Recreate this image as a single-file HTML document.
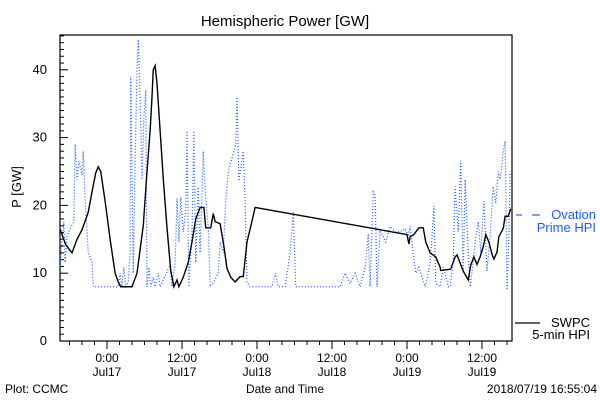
<!DOCTYPE html>
<html><head><meta charset="utf-8"><style>
body{margin:0;background:#fff;}
svg{display:block;font-family:"Liberation Sans",sans-serif;}
</style></head><body>
<svg id="chart" width="600" height="400" viewBox="0 0 600 400">
<rect x="0" y="0" width="600" height="400" fill="#fff"/>
<text x="285" y="26" font-size="15" text-anchor="middle">Hemispheric Power [GW]</text>
<text transform="translate(21,187) rotate(-90)" font-size="13" text-anchor="middle">P [GW]</text>
<text x="285" y="393" font-size="12" text-anchor="middle">Date and Time</text>
<text x="5" y="393" font-size="12">Plot: CCMC</text>
<text x="597" y="393" font-size="12" text-anchor="end">2018/07/19 16:55:04</text>
<g id="axes"></g>
<g id="series"></g>
<g>
<line x1="516" y1="215" x2="522" y2="215" stroke="#1a5cff" stroke-width="1.2"/>
<line x1="532" y1="215" x2="540" y2="215" stroke="#1a5cff" stroke-width="1.2"/>
<text x="596" y="219" font-size="13" fill="#1a5cff" text-anchor="end">Ovation</text>
<text x="596" y="232" font-size="13" fill="#1a5cff" text-anchor="end">Prime HPI</text>
<line x1="515" y1="323" x2="540" y2="323" stroke="#000" stroke-width="1.2"/>
<text x="590" y="327" font-size="13" text-anchor="end">SWPC</text>
<text x="590" y="339" font-size="13" text-anchor="end">5-min HPI</text>
</g>
</svg>
<script>
// hours relative to Jul17 00:00
const swpcHours=[-7.5,-7.2,-6.6,-5.6,-4.8,-4.0,-3.0,-2.4,-1.8,-1.4,-1.0,-0.3,0.5,1.3,1.8,2.2,4.0,4.8,5.8,6.4,6.9,7.2,7.4,7.7,8.0,8.5,9.0,9.6,10.2,10.7,11.2,11.5,12.2,13.0,13.6,14.2,14.9,15.5,15.8,16.6,17.0,17.3,18.1,18.7,19.2,19.8,20.5,21.3,21.8,22.4,23.0,23.7,48.0,48.3,48.5,49.1,49.9,50.6,51.0,51.7,52.6,53.3,53.4,55.0,55.7,56.0,56.5,57.0,57.8,58.2,58.7,59.2,59.7,60.2,60.6,61.1,61.6,61.9,62.4,62.7,63.4,63.7,64.2,64.6];
const swpcValues=[16.5,15.7,14.2,13,15,16.4,19,22,24.8,25.7,25,20.6,15,10,8.7,8,8,10,17,25,31,36,40,40.6,38,31,24,16.7,10.4,8,9,8,9.4,11.6,14.6,18,19.7,19.7,16.7,16.7,18.8,17.6,17.3,14,10.7,9.4,8.7,9.5,9.5,14.6,16.9,19.7,15.7,14.3,15.4,15.7,16.7,16.7,14.6,13,12.4,10.9,10.4,10.6,12.4,12.7,11.5,10.3,9,11.2,12.4,11.3,12.4,13.9,15.7,14.6,12.8,12.1,13.1,15.4,16.6,18.4,18.4,19.5];
const ovationHours=[-7.5,-7.2,-6.9,-6.7,-6.4,-5.9,-5.3,-5.1,-4.8,-4.5,-4.0,-3.8,-3.5,-3.0,-2.4,-2.2,1.8,2.1,2.4,2.7,3.0,3.4,3.7,3.8,4.2,4.5,4.8,5.0,5.3,5.6,5.9,6.2,6.4,6.7,7.0,7.4,7.7,8.2,8.5,10.1,10.4,10.9,11.2,11.5,11.8,12.2,12.6,12.8,13.1,13.6,13.9,14.2,14.6,14.9,15.4,15.7,16.2,16.5,17.1,17.8,18.1,18.6,19.0,19.4,20.6,20.8,21.1,21.8,22.1,22.4,22.9,26.4,26.9,27.4,28.5,29.3,29.8,30.2,37.3,38.1,38.9,39.7,40.5,41.3,41.8,42.1,42.6,42.9,43.2,43.7,44.2,44.6,45.3,46.1,46.9,47.7,48.2,48.5,49.0,49.4,49.9,50.4,50.9,51.4,51.7,52.0,52.3,52.6,53.3,53.8,54.1,54.6,54.9,55.4,55.7,56.2,56.6,57.0,57.3,57.8,58.1,58.6,58.9,59.4,59.8,60.3,60.8,61.3,61.8,62.2,62.6,62.9,63.4,63.7,64.0,64.3,64.5];
const ovationValues=[11,14.6,17.6,11.6,15.5,16.5,17.6,29,23.8,26.5,24.5,28,21,13,11.6,8,8,10,8,10.9,8,8.7,13,39,10,26.5,40,44.5,35.5,23.8,32.8,37,8,10.9,8,9.4,8,10,8,11.3,8,11.6,21,14.6,21.2,16.1,19.1,31,8,16.1,31,11.6,22.7,13,28,22.1,16.9,8,8.7,10,14.6,13,20.6,25,29,36,23.6,28,20.6,8.7,8,8,10,8,8,13,19,8,8,10,8.5,10,8,10.9,15.8,8,22,21.5,8,16.1,15.4,14.6,16.9,16.1,16.1,16.6,15.4,16.9,13,10,10.9,9.4,8,10,11.6,15.4,19.9,8.5,8,10.9,10,8,8,11.9,22.8,16.1,26.6,10,23.8,13,8,11.6,14.6,17.6,13,20.6,10.3,15.5,22.8,20.3,25,23.8,28,29.5,7.5,15,25];
const yTickValues=[0,10,20,30,40];
const xTickHours=[0,12,24,36,48,60];
const xTickLabels=[["0:00","Jul17"],["12:00","Jul17"],["0:00","Jul18"],["12:00","Jul18"],["0:00","Jul19"],["12:00","Jul19"]];

const L=60,R=512,T=35,B=341;
const xS=h=>107+h*75/12;
const yS=v=>B-v*6.78;
const NS="http://www.w3.org/2000/svg";
function mk(tag,attrs,parent){const e=document.createElementNS(NS,tag);for(const k in attrs)e.setAttribute(k,attrs[k]);parent.appendChild(e);return e;}
const ax=document.getElementById('axes'), sg=document.getElementById('series');

const frame=mk('rect',{x:L,y:T,width:R-L,height:B-T,fill:'none',stroke:'#000','stroke-width':1.2},ax);



for(let v=0;v<=45;v++){
  const y=yS(v); if(y<T) break;
  const major=v%10===0;
  const t=mk('line',{x1:L,x2:L+(major?8:4),y1:y,y2:y,stroke:'#000','stroke-width':1},ax);
  
  
}
yTickValues.forEach(v=>{
  const t=mk('text',{x:47,y:yS(v)+4,'font-size':13,'text-anchor':'end'},ax);
  t.textContent=String(v);
  
  
});
for(let h=-6;h<=64;h+=2){
  const x=xS(h); const major=h%12===0;
  const t=mk('line',{x1:x,x2:x,y1:B,y2:B+(major?8:4),stroke:'#000','stroke-width':1},ax);
  
  
}
xTickHours.forEach((h,i)=>{
  const t1=mk('text',{x:xS(h),y:362,'font-size':12,'text-anchor':'middle'},ax);
  t1.textContent=xTickLabels[i][0];
  
  
  const t2=mk('text',{x:xS(h),y:376,'font-size':12,'text-anchor':'middle'},ax);
  t2.textContent=xTickLabels[i][1];
  
  
});

const op=mk('polyline',{points:ovationHours.map((h,i)=>xS(h)+','+yS(ovationValues[i])).join(' '),fill:'none',stroke:'#1a5cff','stroke-width':1.2,'stroke-dasharray':'1,2'},sg);


const sp=mk('polyline',{points:swpcHours.map((h,i)=>xS(h)+','+yS(swpcValues[i])).join(' '),fill:'none',stroke:'#000','stroke-width':1.4},sg);


</script>
</body></html>
